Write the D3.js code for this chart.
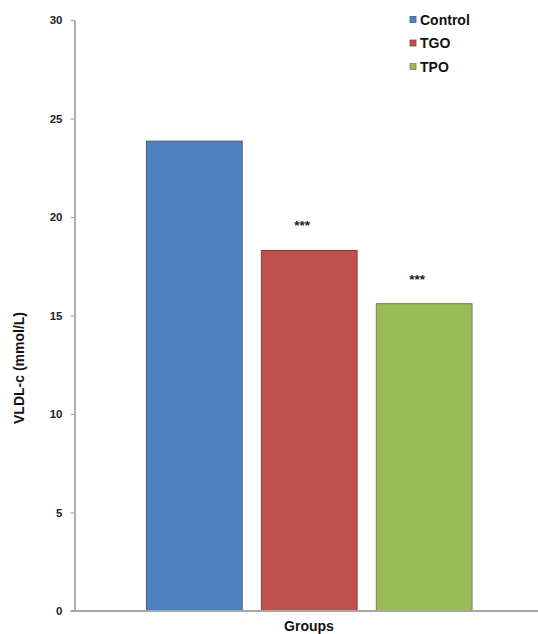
<!DOCTYPE html>
<html>
<head>
<meta charset="utf-8">
<script src="https://cdn.jsdelivr.net/npm/d3@7"></script>
<style>
  html, body { margin: 0; padding: 0; background: #fff; }
  svg { display: block; font-family: "Liberation Sans", Arial, sans-serif; }
</style>
</head>
<body>
<svg id="chart" width="538" height="634"></svg>
<script>
// Groups, mean VLDL-c values and significance marks
const groups = ["Control", "TGO", "TPO"];
const values = [23.85, 18.3, 15.6];
const marks = ["", "***", "***"];
const fills = ["#4F81BD", "#C0504D", "#9BBB59"];
const strokes = ["#3A5F8C", "#8E3A38", "#728A41"];
const yTicks = [0, 5, 10, 15, 20, 25, 30];

const svg = d3.select("#chart");

const y = d3.scaleLinear().domain([0, 30]).range([611, 20]);
const x = d3.scaleBand().domain(groups).range([77.5, 541])
  .paddingInner(0.167).paddingOuter(0.6);

const axisColor = "#A6A6A6";

// y axis
const yAxis = svg.append("g").attr("transform", "translate(74.5,0)")
  .call(d3.axisLeft(y).tickValues(yTicks).tickSize(4).tickSizeOuter(0).tickPadding(8));
yAxis.select(".domain").attr("stroke", axisColor).attr("stroke-width", 1.8);
yAxis.selectAll(".tick line").attr("stroke", axisColor).attr("stroke-width", 1.2);
yAxis.selectAll(".tick text")
  .attr("fill", "#222").attr("font-size", "11.5px").attr("font-weight", "bold")
  .attr("font-family", "Liberation Sans, Arial, sans-serif");

// bars
svg.append("g").selectAll("rect").data(groups).join("rect")
  .attr("x", d => x(d))
  .attr("width", x.bandwidth())
  .attr("y", (d, i) => y(values[i]))
  .attr("height", (d, i) => y(0) - y(values[i]))
  .attr("fill", (d, i) => fills[i])
  .attr("stroke", (d, i) => strokes[i])
  .attr("stroke-width", 1);

// x axis baseline
svg.append("line")
  .attr("x1", 70.5).attr("x2", 538)
  .attr("y1", y(0)).attr("y2", y(0))
  .attr("stroke", axisColor).attr("stroke-width", 1.8);

// significance marks, set slightly left of each bar's centre
svg.append("g").selectAll("text").data(groups).join("text")
  .attr("x", d => x(d) + x.bandwidth() / 2)
  .attr("dx", -7)
  .attr("y", (d, i) => y(values[i]) - 20)
  .attr("text-anchor", "middle")
  .attr("font-size", "13.5px").attr("font-weight", "bold").attr("fill", "#222")
  .text((d, i) => marks[i]);

// axis titles
svg.append("text")
  .attr("transform", "translate(24,368) rotate(-90)")
  .attr("text-anchor", "middle")
  .attr("font-size", "14px").attr("font-weight", "bold").attr("fill", "#111")
  .text("VLDL-c (mmol/L)");

svg.append("text")
  .attr("x", 309).attr("y", 631)
  .attr("text-anchor", "middle")
  .attr("font-size", "14px").attr("font-weight", "bold").attr("fill", "#111")
  .text("Groups");

// legend
const legend = svg.append("g").selectAll("g").data(groups).join("g")
  .attr("transform", (d, i) => `translate(410,${19.5 + i * 23.5})`);
legend.append("rect")
  .attr("x", 0).attr("y", -3).attr("width", 6).attr("height", 6)
  .attr("fill", (d, i) => fills[i])
  .attr("stroke", (d, i) => strokes[i]).attr("stroke-width", 0.8);
legend.append("text")
  .attr("x", 10).attr("y", 5)
  .attr("font-size", "14px").attr("font-weight", "bold").attr("fill", "#111")
  .text(d => d);
</script>
</body>
</html>
